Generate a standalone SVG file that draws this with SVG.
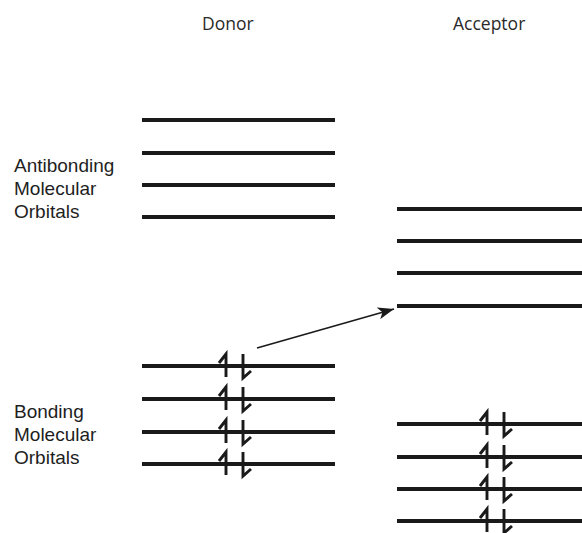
<svg xmlns="http://www.w3.org/2000/svg" xmlns:xlink="http://www.w3.org/1999/xlink" width="582" height="533" viewBox="0 0 582 533">
  <style>
    .level { stroke: #1a1a1a; stroke-width: 4; fill: none; }
    .spin { stroke: #1a1a1a; stroke-width: 2.9; fill: none; stroke-linecap: butt; stroke-linejoin: miter; }
    .head { font-family: "Open Sans", "DejaVu Sans", sans-serif; font-size: 17.5px; fill: #2a2a2a; }
    .label { font-family: "Liberation Sans", Arial, sans-serif; font-size: 19px; fill: #1e1e1e; }
    .conn { stroke: #1a1a1a; stroke-width: 1.6; fill: none; }
  </style>
  <defs>
    <!-- paired electrons: up half-arrow and down half-arrow -->
    <g id="pair">
      <path class="spin" d="M -7 -3 L 0 -12 L 0 11"/>
      <path class="spin" d="M 17 -12 L 17 12 L 25 5"/>
    </g>
    <marker id="arrowhead" markerUnits="userSpaceOnUse" markerWidth="18" markerHeight="12" refX="16" refY="6" orient="auto">
      <path d="M 0 0 L 16 6 L 0 12 L 4 6 Z" fill="#1a1a1a"/>
    </marker>
  </defs>

  <rect width="582" height="533" fill="#ffffff"/>

  <text class="head" x="202" y="30">Donor</text>
  <text class="head" x="453" y="30">Acceptor</text>

  <g id="antibonding-label">
    <text class="label" x="14" y="172">Antibonding</text>
    <text class="label" x="14" y="195">Molecular</text>
    <text class="label" x="14" y="218">Orbitals</text>
  </g>
  <g id="bonding-label">
    <text class="label" x="14" y="418">Bonding</text>
    <text class="label" x="14" y="441">Molecular</text>
    <text class="label" x="14" y="464">Orbitals</text>
  </g>

  <g id="donor-antibonding">
    <line class="level" x1="142" y1="120" x2="335" y2="120"/>
    <line class="level" x1="142" y1="153" x2="335" y2="153"/>
    <line class="level" x1="142" y1="185" x2="335" y2="185"/>
    <line class="level" x1="142" y1="217" x2="335" y2="217"/>
  </g>

  <g id="donor-bonding">
    <line class="level" x1="142" y1="366" x2="335" y2="366"/>
    <line class="level" x1="142" y1="399" x2="335" y2="399"/>
    <line class="level" x1="142" y1="432" x2="335" y2="432"/>
    <line class="level" x1="142" y1="464" x2="335" y2="464"/>
    <use xlink:href="#pair" x="226" y="366"/>
    <use xlink:href="#pair" x="226" y="399"/>
    <use xlink:href="#pair" x="226" y="432"/>
    <use xlink:href="#pair" x="226" y="464"/>
  </g>

  <g id="acceptor-antibonding">
    <line class="level" x1="397" y1="209" x2="582" y2="209"/>
    <line class="level" x1="397" y1="241" x2="582" y2="241"/>
    <line class="level" x1="397" y1="273" x2="582" y2="273"/>
    <line class="level" x1="397" y1="306" x2="582" y2="306"/>
  </g>

  <g id="acceptor-bonding">
    <line class="level" x1="397" y1="424" x2="582" y2="424"/>
    <line class="level" x1="397" y1="457" x2="582" y2="457"/>
    <line class="level" x1="397" y1="489" x2="582" y2="489"/>
    <line class="level" x1="397" y1="521" x2="582" y2="521"/>
    <use xlink:href="#pair" x="487" y="424"/>
    <use xlink:href="#pair" x="487" y="457"/>
    <use xlink:href="#pair" x="487" y="489"/>
    <use xlink:href="#pair" x="487" y="521"/>
  </g>

  <g id="connectors">
    <line class="conn" x1="257" y1="348" x2="394" y2="309" marker-end="url(#arrowhead)"/>
  </g>
</svg>
